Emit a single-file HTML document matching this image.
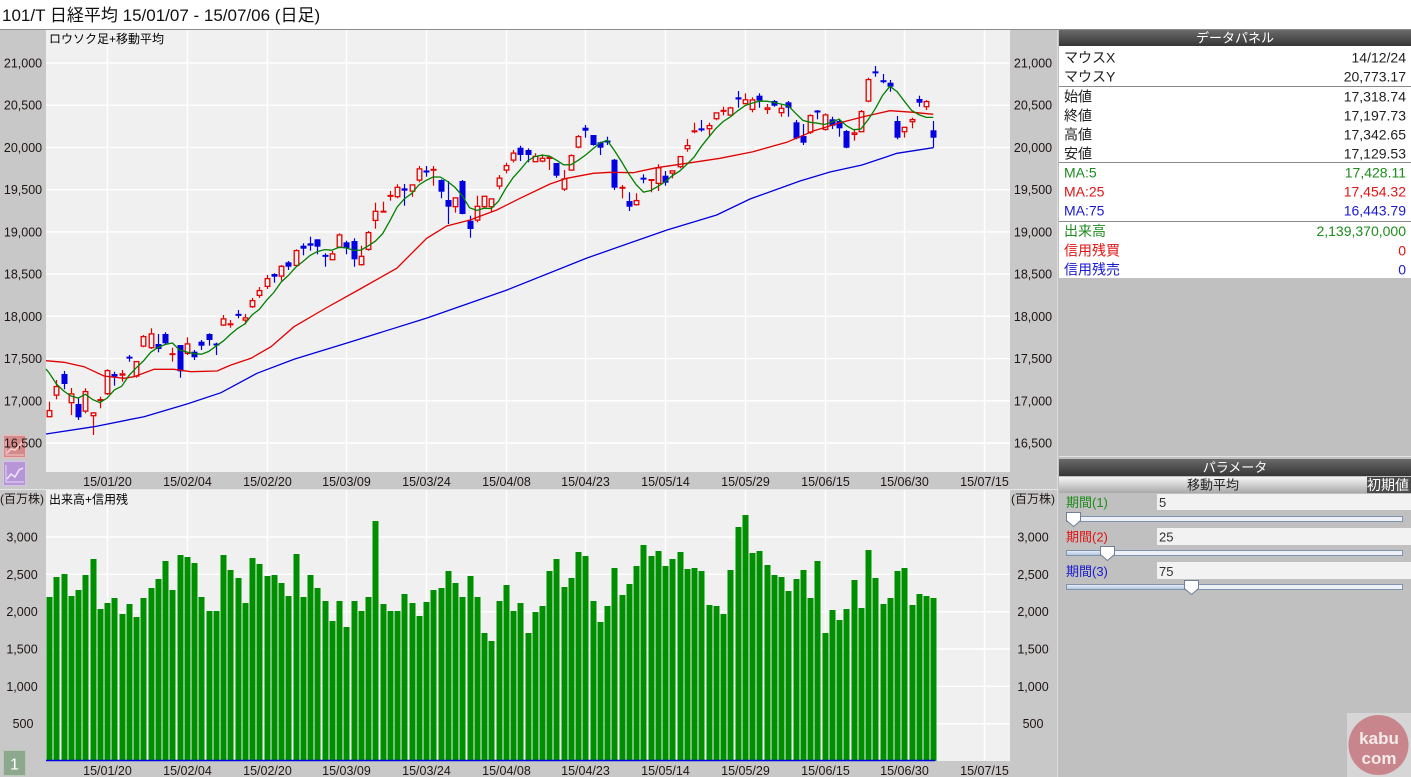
<!DOCTYPE html>
<html><head><meta charset="utf-8">
<style>
html,body{margin:0;padding:0;}
body{width:1411px;height:777px;overflow:hidden;background:#c8c8c8;position:relative;font-family:"Liberation Sans","Noto Sans CJK JP",sans-serif;}
svg text{font-family:"Liberation Sans","Noto Sans CJK JP",sans-serif;}
</style></head>
<body>
<svg id="s" width="1411" height="777" viewBox="0 0 1411 777" xmlns="http://www.w3.org/2000/svg" style="position:absolute;left:0;top:0">
<defs>
<linearGradient id="hd" x1="0" y1="0" x2="0" y2="1"><stop offset="0" stop-color="#6a6a6a"/><stop offset="1" stop-color="#363636"/></linearGradient>
<linearGradient id="sh" x1="0" y1="0" x2="0" y2="1"><stop offset="0" stop-color="#f6f6f6"/><stop offset="1" stop-color="#a9a9a9"/></linearGradient>
<linearGradient id="sl" x1="0" y1="0" x2="0" y2="1"><stop offset="0" stop-color="#e4ecf6"/><stop offset="1" stop-color="#b4c8e2"/></linearGradient>
</defs>
<!-- header -->
<rect x="0" y="0" width="1411" height="29" fill="#ffffff"/>
<line x1="0" y1="29.5" x2="1411" y2="29.5" stroke="#8c8c8c"/>
<text x="2" y="21" font-size="17" fill="#111">101/T 日経平均  15/01/07 - 15/07/06 (日足)</text>
<!-- axis columns / plots -->
<rect x="0" y="30" width="1057" height="747" fill="#c8c8c8"/>
<rect x="46" y="30" width="964" height="442" fill="#f0f0f0"/>
<rect x="46" y="490" width="964" height="271" fill="#f0f0f0"/>
<line x1="0" y1="489.5" x2="1057" y2="489.5" stroke="#e6e6e6"/>
<g id="grid"></g>
<!-- price axis labels -->
<g font-size="12.5" fill="#201414" text-anchor="middle">
<text x="23" y="67.5">21,000</text><text x="23" y="109.7">20,500</text><text x="23" y="151.9">20,000</text><text x="23" y="194.2">19,500</text><text x="23" y="236.4">19,000</text><text x="23" y="278.6">18,500</text><text x="23" y="320.8">18,000</text><text x="23" y="363.1">17,500</text><text x="23" y="405.3">17,000</text>
<text x="1033" y="67.5">21,000</text><text x="1033" y="109.7">20,500</text><text x="1033" y="151.9">20,000</text><text x="1033" y="194.2">19,500</text><text x="1033" y="236.4">19,000</text><text x="1033" y="278.6">18,500</text><text x="1033" y="320.8">18,000</text><text x="1033" y="363.1">17,500</text><text x="1033" y="405.3">17,000</text><text x="1033" y="447.5">16,500</text>
<text x="22" y="541.5">3,000</text><text x="22" y="578.8">2,500</text><text x="22" y="616.2">2,000</text><text x="22" y="653.5">1,500</text><text x="22" y="690.8">1,000</text><text x="23" y="728.2">500</text>
<text x="1033" y="541.5">3,000</text><text x="1033" y="578.8">2,500</text><text x="1033" y="616.2">2,000</text><text x="1033" y="653.5">1,500</text><text x="1033" y="690.8">1,000</text><text x="1033" y="728.2">500</text>
</g>
<g font-size="12" fill="#201414" text-anchor="middle">
<text x="22" y="503">(百万株)</text><text x="1033" y="503">(百万株)</text>
</g>
<!-- date labels -->
<g font-size="12.5" fill="#201414" text-anchor="middle">
<text x="107.5" y="486">15/01/20</text><text x="187.5" y="486">15/02/04</text><text x="267.5" y="486">15/02/20</text><text x="346.5" y="486">15/03/09</text><text x="426.5" y="486">15/03/24</text><text x="506.5" y="486">15/04/08</text><text x="585.5" y="486">15/04/23</text><text x="665.5" y="486">15/05/14</text><text x="745.5" y="486">15/05/29</text><text x="825.5" y="486">15/06/15</text><text x="904.5" y="486">15/06/30</text><text x="984.5" y="486">15/07/15</text>
<text x="107.5" y="775">15/01/20</text><text x="187.5" y="775">15/02/04</text><text x="267.5" y="775">15/02/20</text><text x="346.5" y="775">15/03/09</text><text x="426.5" y="775">15/03/24</text><text x="506.5" y="775">15/04/08</text><text x="585.5" y="775">15/04/23</text><text x="665.5" y="775">15/05/14</text><text x="745.5" y="775">15/05/29</text><text x="825.5" y="775">15/06/15</text><text x="904.5" y="775">15/06/30</text><text x="984.5" y="775">15/07/15</text>
</g>
<g id="vol"></g>
<line x1="46" y1="760.5" x2="935" y2="760.5" stroke="#0000e0" stroke-width="1.5"/>
<g id="cand"></g>
<g id="ma" fill="none" stroke-width="1.3">
<polyline stroke="#e00000" points="46,360.7 64,362.3 84,366.7 104,376 124,378.3 134,376.7 154,369.3 174,369.3 191,371.7 217,371 231,365 251,358.3 271,346.7 294,326.7 326,308 358.3,290 396.7,268.3 426.7,238.3 446.7,226 470,220 496.7,210 520,198.3 550,184 566.7,178.3 593.3,173.3 610,172.3 633.3,172.7 656.7,167.7 686.7,163.3 720,158.3 753,151.7 786.7,142.3 813.3,131 840,122.7 863.3,116.7 890,110.7 913.3,112.3 933.3,114.3"/>
<polyline stroke="#0000dd" points="46,434 94,426.7 144,416.7 187,404 221,392.7 257,373.3 294,359.3 347,343 427,318 507,290 587,258 667,230 716.7,215 750,199 800,181 830,172 862,165 897,153.3 933.3,147.7"/>
</g>
<!-- chart titles -->
<rect x="48" y="32" width="116" height="13" fill="#f0f0f0"/>
<text x="49" y="43" font-size="12" fill="#000">ロウソク足+移動平均</text>
<rect x="48" y="492" width="81" height="13" fill="#f0f0f0"/>
<text x="49" y="503.5" font-size="12" fill="#000">出来高+信用残</text>
<!-- left icons -->
<rect x="3.5" y="435.5" width="22" height="22" fill="#d48a8a" stroke="#ecb8b8"/>
<polyline points="7,453 11,449 15,450 20,445 23,441" fill="none" stroke="#f4d4d4" stroke-width="1.5"/>
<polyline points="6,439 6,455 24,455" fill="none" stroke="#f0c8c8" stroke-width="1"/>
<text x="23" y="447.5" font-size="12.5" fill="#201414" text-anchor="middle">16,500</text>
<rect x="3.5" y="461.5" width="22" height="24" fill="#b796d8" stroke="#d6c2ea"/>
<polyline points="7,479 11,474 15,477 19,470 23,468" fill="none" stroke="#f0e6fa" stroke-width="1.5"/>
<polyline points="6,465 6,482 24,482" fill="none" stroke="#e6daf4" stroke-width="1"/>
<rect x="3.5" y="750.5" width="22" height="25" fill="#8ea88e" stroke="#b6c8b6"/>
<text x="14.5" y="769.5" font-size="16" fill="#ffffff" text-anchor="middle">1</text>
<!-- right panel -->
<rect x="1057" y="30" width="354" height="747" fill="#c0c0c0"/>
<line x1="1057.5" y1="30" x2="1057.5" y2="777" stroke="#dcdcdc"/>
<rect x="1059" y="30" width="352" height="16" fill="url(#hd)"/>
<text x="1235" y="42.5" font-size="13" fill="#ffffff" text-anchor="middle">データパネル</text>
<rect x="1059" y="46" width="352" height="232" fill="#ffffff"/>
<g stroke="#8a8a8a"><line x1="1059" y1="86.5" x2="1411" y2="86.5"/><line x1="1059" y1="162.5" x2="1411" y2="162.5"/><line x1="1059" y1="221.5" x2="1411" y2="221.5"/></g>
<g font-size="14">
<g fill="#202020">
<text x="1064" y="62.5">マウスX</text><text x="1406" y="62.5" text-anchor="end">14/12/24</text>
<text x="1064" y="81.5">マウスY</text><text x="1406" y="81.5" text-anchor="end">20,773.17</text>
<text x="1064" y="101.5">始値</text><text x="1406" y="101.5" text-anchor="end">17,318.74</text>
<text x="1064" y="120.5">終値</text><text x="1406" y="120.5" text-anchor="end">17,197.73</text>
<text x="1064" y="139.5">高値</text><text x="1406" y="139.5" text-anchor="end">17,342.65</text>
<text x="1064" y="158.5">安値</text><text x="1406" y="158.5" text-anchor="end">17,129.53</text>
</g>
<g fill="#1c8c1c"><text x="1064" y="177.5">MA:5</text><text x="1406" y="177.5" text-anchor="end">17,428.11</text>
<text x="1064" y="236">出来高</text><text x="1406" y="236" text-anchor="end">2,139,370,000</text></g>
<g fill="#e01414"><text x="1064" y="196.5">MA:25</text><text x="1406" y="196.5" text-anchor="end">17,454.32</text>
<text x="1064" y="255.5">信用残買</text><text x="1406" y="255.5" text-anchor="end">0</text></g>
<g fill="#1a1ad0"><text x="1064" y="215.5">MA:75</text><text x="1406" y="215.5" text-anchor="end">16,443.79</text>
<text x="1064" y="274.5">信用残売</text><text x="1406" y="274.5" text-anchor="end">0</text></g>
</g>
<!-- parameters -->
<line x1="1059" y1="456.5" x2="1411" y2="456.5" stroke="#e2e2e2"/>
<rect x="1059" y="459" width="352" height="17" fill="url(#hd)"/>
<text x="1235" y="472" font-size="13" fill="#ffffff" text-anchor="middle">パラメータ</text>
<rect x="1059" y="477" width="308" height="16" fill="url(#sh)"/>
<text x="1213" y="489.5" font-size="13" fill="#202020" text-anchor="middle">移動平均</text>
<rect x="1367" y="477" width="44" height="16" fill="#4a4a4a"/>
<text x="1388" y="490" font-size="14" fill="#ffffff" text-anchor="middle">初期値</text>
<rect x="1157" y="494" width="254" height="16" fill="#f2f2f2"/>
<rect x="1157" y="528" width="254" height="17" fill="#f2f2f2"/>
<rect x="1157" y="562" width="254" height="17" fill="#f2f2f2"/>
<g font-size="13">
<text x="1066" y="507" fill="#1c8c1c">期間(1)</text><text x="1159" y="507" fill="#303030">5</text>
<text x="1066" y="541.5" fill="#e01414">期間(2)</text><text x="1159" y="541.5" fill="#303030">25</text>
<text x="1066" y="576" fill="#1a1ad0">期間(3)</text><text x="1159" y="576" fill="#303030">75</text>
</g>
<g stroke="#7f93ad" stroke-width="1">
<rect x="1066.5" y="516.5" width="336" height="5" fill="#eef2f7"/>
<rect x="1066.5" y="550.5" width="336" height="5" fill="#eef2f7"/>
<rect x="1066.5" y="584.5" width="336" height="5" fill="#eef2f7"/>
</g>
<rect x="1067" y="551" width="38" height="4" fill="url(#sl)"/>
<rect x="1067" y="585" width="124" height="4" fill="url(#sl)"/>
<g fill="#ffffff" stroke="#6e7f96" stroke-width="1">
<polygon points="1066.5,512.5 1080.5,512.5 1080.5,520.5 1073.5,526.5 1066.5,520.5"/>
<polygon points="1100.5,546.5 1114.5,546.5 1114.5,554.5 1107.5,560.5 1100.5,554.5"/>
<polygon points="1184.5,580.5 1198.5,580.5 1198.5,588.5 1191.5,594.5 1184.5,588.5"/>
</g>
<!-- logo -->
<rect x="1347" y="713" width="64" height="64" fill="#d6d6d6"/>
<circle cx="1378.5" cy="745" r="30" fill="#c8868c"/>
<text x="1379" y="744" font-size="17" font-weight="bold" fill="#f4eaea" text-anchor="middle">kabu</text>
<text x="1379" y="764" font-size="17" font-weight="bold" fill="#f4eaea" text-anchor="middle">com</text>
</svg>
<script>
(function(){
var NS='http://www.w3.org/2000/svg';
function el(t,a,p){var e=document.createElementNS(NS,t);for(var k in a)e.setAttribute(k,a[k]);p.appendChild(e);return e;}
var grid=document.getElementById('grid');
var gx=[107.5,187.5,267.5,346.5,426.5,506.5,585.5,665.5,745.5,825.5,904.5,984.5];
var py=[63,105.2,147.4,189.7,231.9,274.1,316.3,358.6,400.8,443];
var vy=[537,574.3,611.7,649,686.3,723.7];
py.forEach(function(y){el('line',{x1:46,x2:1010,y1:y,y2:y,stroke:'#ffffff','stroke-width':1.4},grid);});
vy.forEach(function(y){el('line',{x1:46,x2:1010,y1:y,y2:y,stroke:'#ffffff','stroke-width':1.4},grid);});
gx.forEach(function(x){el('line',{x1:x,x2:x,y1:30,y2:472,stroke:'#ffffff','stroke-width':1.4},grid);el('line',{x1:x,x2:x,y1:490,y2:761,stroke:'#ffffff','stroke-width':1.4},grid);});
var C=[
['r',410,417.3,401.7,417.3],['r',386,395.7,380,399.3],['b',374,384,371,389.3],['r',393.3,403.3,388,415],['b',404,417.3,397.7,420],
['r',391,411.7,388.3,413.3],['r',412.3,416.3,412,435],['r',399.3,400.7,396.7,408.3],['r',370,394.3,369.3,395],['b',374,376.7,371.7,385.7],
['r',373.3,375.7,370,381.7],['b',357.3,358,355,361.7],['r',361,376.7,361,377.7],['r',336,346.7,335,347.3],['r',333.3,348.3,328.3,349],
['b',344,349,334,352.3],['b',334,343.3,332.3,344.3],['r',353.3,355,347.7,361.7],['b',345,371.3,345,377.7],['r',343.3,354,337.3,355],
['b',351.7,357.3,350,360],['b',341.7,345.7,340,350],['b',334,340,333.3,345.7],['b',344.3,344.7,342.7,355],['r',318.3,325.7,315,326],
['r',323.3,325.3,320,327.7],['b',314,315.7,310,318.3],['r',317.3,320.7,314,324.3],['r',300,307.3,298,308],['r',290,296,287,298],
['r',278,287,275,289],['b',274,276.7,273.3,282.7],['r',265.7,276.7,265,280.7],['b',262.3,266.7,261,270],['r',250,266,249.3,266.7],
['b',245.7,248.7,243.3,255.3],['b',243.3,245.7,236.7,250.7],['b',239.3,246.7,239.3,254.3],['b',255,256.7,253.3,266.7],['r',253.3,260.3,251,260.3],
['r',234.3,247.7,233.3,248.3],['b',242.3,248.3,240.7,254.3],['b',241,259.3,238.3,266.7],['r',255.7,265.3,245.7,265.7],['r',232,250,231,250.7],
['r',210.7,221,202.7,228.7],['r',211,212.3,201.7,212.3],['r',195,196.7,191,200.7],['r',186.7,197.3,184.3,198.3],['b',188.3,190.7,184,205.7],
['r',184.3,191.7,184.3,196.7],['r',168.3,180.7,166,182.3],['b',171,172,166,176.7],['r',169.3,170.3,166,185.7],['b',180,191.7,179.3,198.3],
['b',200,206.7,181,224],['r',197.3,207.3,197.3,212.7],['b',181,214,180,214.3],['b',220.7,229,215.7,237.7],['r',205.7,220.7,195.7,222.3],
['r',195.7,207.3,195.7,208.3],['r',198.3,207.3,198.3,211.7],['r',177.5,186.7,175,189.3],['r',165,170.7,162.7,173.3],['r',152.5,160.7,150,162.5],
['b',147.7,155,145.7,161],['b',150,155,148.3,162.3],['r',155.7,162.3,153.3,162.3],['r',157.7,161.7,154.3,162.3],['r',156.7,159,155.7,170],
['b',163,175.7,163,177.7],['r',178.3,189.7,170,191],['r',155,170.7,154.3,170.7],['r',136,147.7,135,148.3],['b',127.7,130.7,125,137.7],
['b',135,145,135,145.7],['b',142.3,147.7,141.7,155],['b',141,142,136.7,145],['b',159.7,187.7,159,190],['r',187.3,188.3,185,198.3],
['b',201,206.7,192.3,211],['r',200,205.3,193.3,205.7],['b',178.3,179,174.3,183.3],['r',179.3,180.7,179.3,192.3],['r',167.3,184,164.3,191],
['b',175.7,182.7,171,185.7],['r',170.3,173.7,170.3,178.3],['r',156,167.3,156,168.3],['r',145,149.3,139,151.7],['r',130.3,132.3,122.7,133.3],
['b',129,129.7,120,131.7],['r',125,129.3,122.7,136.7],['r',112.3,119.3,112.3,120.3],['r',110,111.7,106.7,115.3],['r',107.3,115.7,106.7,115.7],
['b',97.3,99.5,91,107.7],['r',99.2,104.3,93.3,104.3],['r',99.3,110,97.3,112.3],['b',95.7,100.7,93.3,107.7],['r',107.3,110,104,114],
['b',101,105.7,100,106.7],['r',107.7,113.3,105,116.7],['b',102.3,107.7,101,116.7],['b',122.3,138.3,120,139.3],['b',136,142.7,124,145],
['r',115,132.7,114.3,134],['b',110.7,112.3,110,119.3],['r',114.3,130,113.3,130.7],['b',119.3,125.7,116.7,129],['b',121,128.3,119.3,136.7],
['b',131,147.7,130,148.3],['r',132.3,135,130,140.7],['r',111,132.3,110,132.3],['r',79,101.7,77.7,102.3],['b',71.7,73,66,76.7],
['b',80.7,81.7,74,83.3],['b',82.7,86.7,80,91.7],['b',121,137.7,116,139.3],['r',126.7,132.3,126.7,137.7],['r',119,122.3,117.7,128.3],
['b',99,102.7,95.7,106.7],['r',101,107.3,100,110],['b',130.3,137.7,121,147.7]
];
var V=[597,577,574,596,590,575,559,609,603,598,
614,604,617,598,588,579,561,590,555,557,
563,597,611,611,555,570,578,603,558,564,
576,575,583,596,554,597,575,588,601,621,
601,627,601,611,597,521,604,611,611,594,
603,616,602,590,588,571,583,597,576,597,
633,641,601,585,611,603,633,612,606,571,
559,587,578,552,556,601,622,606,568,595,
584,566,545,556,551,566,559,552,569,568,
571,605,606,614,570,527,515,553,551,565,
575,577,591,579,570,598,561,633,610,620,
609,580,608,550,578,604,598,571,568,605,
594,596,598];
function X(i){return 49.2+7.247*i;}
var gv=document.getElementById('vol');
V.forEach(function(t,i){var c=Math.round(X(i));el('rect',{x:c-2.5,y:t,width:6,height:761-t,fill:'#008f00'},gv);});
var gc=document.getElementById('cand');
var closes=[];
C.forEach(function(d,i){
  var c=Math.round(X(i)),wx=c+0.5,t=d[1],b=d[2],h=d[3],l=d[4];
  var red=d[0]==='r',col=red?'#e00000':'#0000e0';
  closes.push(red?t:b);
  if(b-t<2){
    el('line',{x1:wx,x2:wx,y1:h,y2:l,stroke:col,'stroke-width':1.2},gc);
    el('rect',{x:c-2.5,y:(t+b)/2-1,width:6,height:2,fill:col},gc);
    return;
  }
  if(red){
    if(h<t)el('line',{x1:wx,x2:wx,y1:h,y2:t,stroke:col,'stroke-width':1.2},gc);
    if(l>b)el('line',{x1:wx,x2:wx,y1:b,y2:l,stroke:col,'stroke-width':1.2},gc);
    el('rect',{x:c-1.8,y:t+0.6,width:4.6,height:Math.max(0.8,b-t-1.2),fill:'none',stroke:col,'stroke-width':1.3},gc);
  }else{
    el('line',{x1:wx,x2:wx,y1:h,y2:l,stroke:col,'stroke-width':1.2},gc);
    el('rect',{x:c-2.5,y:t,width:6,height:b-t,fill:col},gc);
  }
});
var init=[373,384,391,396],pts=[];
for(var i=0;i<closes.length;i++){
  var m;
  if(i<4)m=init[i];else{m=0;for(var k=i-4;k<=i;k++)m+=closes[k];m/=5;}
  pts.push(X(i).toFixed(1)+','+m.toFixed(1));
}
el('polyline',{points:'46,369 '+pts.join(' '),stroke:'#008000',fill:'none','stroke-width':1.3},document.getElementById('ma'));
})();
</script>
</body></html>
